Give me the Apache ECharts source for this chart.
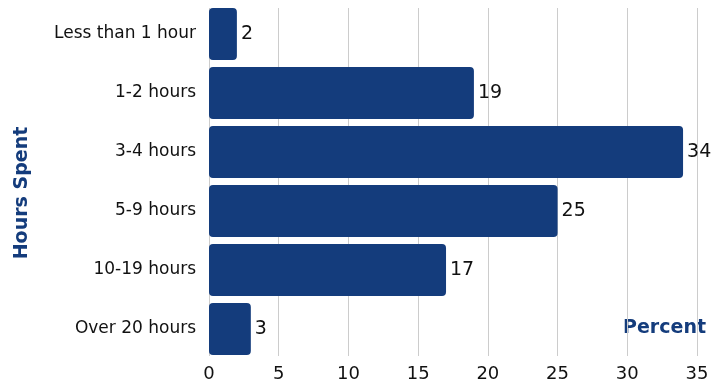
<!DOCTYPE html>
<html>
<head>
<meta charset="utf-8">
<script src="https://cdn.jsdelivr.net/npm/echarts@6/dist/echarts.min.js"></script>
<style>
  html, body { margin: 0; padding: 0; background: #fff; }
  #chart { width: 723px; height: 383px; }
</style>
</head>
<body>
<div id="chart"></div>
<script>
// Time spent per week, share of respondents
const categories = ['Less than 1 hour', '1-2 hours', '3-4 hours', '5-9 hours', '10-19 hours', 'Over 20 hours'];
const percents = [2, 19, 34, 25, 17, 3];
const xTicks = [0, 5, 10, 15, 20, 25, 30, 35];

const navy = '#143c7c';
const fontFamily = '"DejaVu Sans", sans-serif';

const xRange = {
  type: 'value',
  min: xTicks[0],
  max: xTicks[xTicks.length - 1],
  interval: xTicks[1] - xTicks[0]
};

const chart = echarts.init(document.getElementById('chart'));
chart.setOption({
  animation: false,
  grid: [
    // grid lines and tick labels span from the first bar's top to the last bar's bottom
    { left: 209, right: 26, top: 8, bottom: 27 },
    // bars, with half a gap of padding above and below
    { left: 209, right: 26, top: 4.5, bottom: 24.5 }
  ],
  xAxis: [
    Object.assign({}, xRange, {
      gridIndex: 0,
      axisLine: { show: false },
      axisTick: { show: false },
      splitLine: { show: true, lineStyle: { color: '#cccccc', width: 1 } },
      axisLabel: { color: '#111', fontSize: 18, fontFamily, margin: 9 }
    }),
    Object.assign({}, xRange, {
      gridIndex: 1,
      axisLine: { show: false },
      axisTick: { show: false },
      splitLine: { show: false },
      axisLabel: { show: false }
    })
  ],
  yAxis: [
    {
      gridIndex: 0,
      type: 'category',
      data: categories,
      show: false
    },
    {
      gridIndex: 1,
      type: 'category',
      data: categories,
      inverse: true,
      axisLine: { show: false },
      axisTick: { show: false },
      axisLabel: { color: '#111', fontSize: 17, fontFamily, margin: 13 }
    }
  ],
  series: [{
    type: 'bar',
    xAxisIndex: 1,
    yAxisIndex: 1,
    data: percents,
    barCategoryGap: '12%',
    itemStyle: { color: navy, borderRadius: 4 },
    label: {
      show: true,
      position: 'right',
      distance: 4,
      color: '#111',
      fontSize: 19,
      fontFamily
    }
  }],
  graphic: [
    {
      type: 'text',
      x: 22,
      y: 193,
      rotation: Math.PI / 2,
      style: {
        text: 'Hours Spent', fill: navy, fontSize: 19, fontWeight: 'bold', fontFamily,
        align: 'center', verticalAlign: 'middle'
      }
    },
    {
      type: 'text',
      x: 706,
      y: 328,
      style: {
        text: 'Percent', fill: navy, fontSize: 19, fontWeight: 'bold', fontFamily,
        align: 'right', verticalAlign: 'middle'
      }
    }
  ]
});
</script>
</body>
</html>
